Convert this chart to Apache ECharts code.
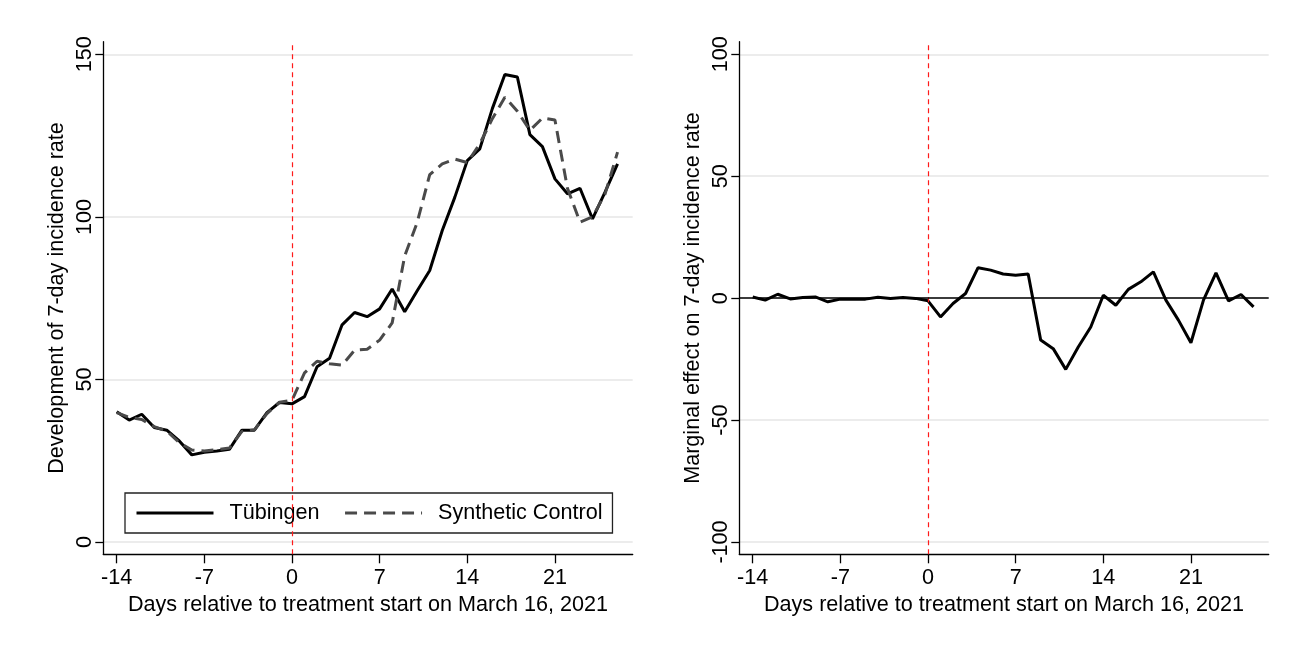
<!DOCTYPE html>
<html>
<head>
<meta charset="utf-8">
<title>Tübingen synthetic control</title>
<script src="https://cdn.jsdelivr.net/npm/echarts@6/dist/echarts.min.js"></script>
<style>
  html, body { margin: 0; padding: 0; background: #fff; }
  #chart { width: 1303px; height: 648px; }
</style>
</head>
<body>
<div id="chart"></div>
<script>
// Days relative to the start of the Tübingen model project (March 16, 2021)
const days = [-14, -13, -12, -11, -10, -9, -8, -7, -6, -5, -4, -3, -2, -1, 0,
  1, 2, 3, 4, 5, 6, 7, 8, 9, 10, 11, 12, 13,
  14, 15, 16, 17, 18, 19, 20, 21, 22, 23, 24, 25, 26];

// 7-day incidence rate, Tübingen
const tubingen = [40.1, 37.5, 39.3, 35.2, 34.4, 31.1, 26.8, 27.6, 28.0, 28.5, 34.4, 34.4, 39.8, 42.9, 42.5,
  44.7, 53.9, 56.5, 66.8, 70.6, 69.3, 71.7, 77.8, 70.8, 77.3, 83.5, 95.8, 106.0,
  117.3, 120.9, 133.3, 143.8, 143.0, 125.3, 121.6, 111.7, 107.1, 108.8, 99.4, 107.6, 116.3];

// 7-day incidence rate, synthetic control unit
const synthetic = [39.8, 38.3, 37.7, 35.5, 34.1, 30.6, 28.3, 28.0, 28.4, 28.9, 34.0, 34.5, 39.5, 43.0, 43.6,
  52.0, 55.6, 54.8, 54.4, 59.0, 59.3, 62.1, 67.4, 88.0, 98.3, 113.0, 116.3, 117.8,
  116.7, 122.5, 130.2, 136.8, 132.5, 126.6, 130.4, 129.8, 108.8, 98.4, 100.0, 107.0, 119.9];

// Marginal effect (Tübingen minus synthetic control)
const effect = [0.5, -0.8, 1.6, -0.3, 0.3, 0.5, -1.5, -0.4, -0.4, -0.4, 0.4, -0.1, 0.3, -0.1, -1.1,
  -7.7, -2.2, 1.9, 12.5, 11.5, 9.9, 9.4, 9.9, -17.2, -20.7, -29.2, -20.0, -11.8,
  1.2, -2.9, 3.6, 6.7, 10.8, -0.8, -9.0, -18.3, -0.8, 10.4, -1.1, 1.5, -3.6];

// Tick labels
const dayTicks = [-14, -7, 0, 7, 14, 21];
const levelTicks = [0, 50, 100, 150];
const effectTicks = [-100, -50, 0, 50, 100];

const FONT = "'Liberation Sans', Arial, Helvetica, sans-serif";
const FS = 21.6;
const pairs = (vals) => days.map((d, i) => [d, vals[i]]);

const treatmentLine = {
  xAxis: 0,
  lineStyle: { color: '#ff1a1a', type: [5, 4], width: 1.2 }
};

function xAxisFor(gridIndex) {
  return {
    gridIndex,
    type: 'value',
    min: -15.07,
    max: 27.21,
    name: 'Days relative to treatment start on March 16, 2021',
    nameLocation: 'middle',
    nameGap: 34,
    nameTextStyle: { fontSize: FS, color: '#000', fontFamily: FONT },
    axisLine: { show: true, onZero: false, lineStyle: { color: '#000', width: 1.3 } },
    axisTick: { customValues: dayTicks, length: 9, lineStyle: { color: '#000', width: 1.3 } },
    axisLabel: { customValues: dayTicks, fontSize: FS, color: '#000', fontFamily: FONT, margin: 13 },
    splitLine: { show: false }
  };
}

function yAxisFor(gridIndex, min, max, ticks, title) {
  return {
    gridIndex,
    type: 'value',
    min,
    max,
    name: title,
    nameLocation: 'middle',
    nameGap: 35,
    nameTextStyle: { fontSize: FS, color: '#000', fontFamily: FONT },
    axisLine: { show: true, onZero: false, lineStyle: { color: '#000', width: 1.3 } },
    axisTick: { customValues: ticks, length: 8, lineStyle: { color: '#000', width: 1.3 } },
    axisLabel: { customValues: ticks, rotate: 90, fontSize: FS, color: '#000', fontFamily: FONT, margin: 7 },
    splitLine: { show: true, lineStyle: { color: '#e6e6e6', width: 1.5 } }
  };
}

const chart = echarts.init(document.getElementById('chart'), null, { renderer: 'canvas' });

chart.setOption({
  animation: false,
  backgroundColor: '#fff',
  textStyle: { fontFamily: FONT },
  grid: [
    { left: 103.3, top: 41.7, width: 529.4, height: 512.6 },
    { left: 739.3, top: 41.7, width: 529.4, height: 512.6 }
  ],
  xAxis: [xAxisFor(0), xAxisFor(1)],
  yAxis: [
    yAxisFor(0, -3.78, 153.88, levelTicks, 'Development of 7-day incidence rate'),
    yAxisFor(1, -105.04, 105.17, effectTicks, 'Marginal effect on 7-day incidence rate')
  ],
  legend: {
    left: 125,
    top: 493,
    orient: 'horizontal',
    data: ['Tübingen', 'Synthetic Control'],
    itemWidth: 77,
    itemHeight: 14,
    itemGap: 24,
    padding: [9, 10, 9, 10],
    borderColor: '#222',
    borderWidth: 1.3,
    borderRadius: 0,
    backgroundColor: '#fff',
    itemStyle: { opacity: 0, borderWidth: 0 },
    lineStyle: { width: 3 },
    textStyle: { fontSize: FS, color: '#000', fontFamily: FONT, padding: [0, 0, 0, 11] }
  },
  series: [
    {
      name: 'Tübingen',
      type: 'line',
      xAxisIndex: 0,
      yAxisIndex: 0,
      data: pairs(tubingen),
      symbol: 'none',
      lineStyle: { color: '#000', width: 3 },
      itemStyle: { color: '#000' },
      markLine: {
        silent: true,
        symbol: ['none', 'none'],
        label: { show: false },
        data: [treatmentLine]
      }
    },
    {
      name: 'Synthetic Control',
      type: 'line',
      xAxisIndex: 0,
      yAxisIndex: 0,
      data: pairs(synthetic),
      symbol: 'none',
      lineStyle: { color: '#4a4a4a', width: 3, type: [12, 7] },
      itemStyle: { color: '#4a4a4a' }
    },
    {
      name: 'Marginal effect',
      type: 'line',
      xAxisIndex: 1,
      yAxisIndex: 1,
      data: pairs(effect),
      symbol: 'none',
      lineStyle: { color: '#000', width: 3 },
      itemStyle: { color: '#000' },
      markLine: {
        silent: true,
        symbol: ['none', 'none'],
        label: { show: false },
        data: [
          treatmentLine,
          { yAxis: 0, lineStyle: { color: '#000', type: 'solid', width: 1.5 } }
        ]
      }
    }
  ]
});
</script>
</body>
</html>
